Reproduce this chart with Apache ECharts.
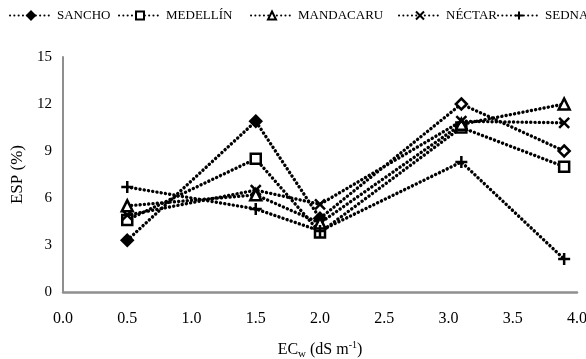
<!DOCTYPE html>
<html>
<head>
<meta charset="utf-8">
<script src="https://cdn.jsdelivr.net/npm/echarts@6/dist/echarts.min.js"></script>
<style>
  html, body { margin: 0; padding: 0; background: #fff; }
  #chart { width: 586px; height: 359px; }
</style>
</head>
<body>
<div id="chart"></div>
<script>
// EC_w (dS m-1) at which ESP was measured
const ecw = [0.5, 1.5, 2.0, 3.1, 3.9];

const sancho    = [3.3, 10.9, 4.7, 12.0, 9.0];
const medellin  = [4.6, 8.5, 3.8, 10.5, 8.0];
const mandacaru = [5.5, 6.2, 4.4, 10.7, 12.0];
const nectar    = [4.9, 6.5, 5.6, 10.9, 10.8];
const sedna     = [6.7, 5.3, 3.9, 8.3, 2.1];

const seriesNames = ['SANCHO', 'MEDELLÍN', 'MANDACARU', 'NÉCTAR', 'SEDNA'];

const fontSerif = '"Liberation Serif", "DejaVu Serif", serif';
const axisGray = '#8f8f8f';

const markers = {
    'SANCHO':    { symbol: 'diamond', size: 11, fill: '#000' },
    'MEDELLÍN':  { symbol: 'rect', size: 10, fill: '#fff' },
    'MANDACARU': { symbol: 'triangle', size: 11, fill: '#fff' },
    'NÉCTAR':    { symbol: 'path://M0,0L10,10M10,0L0,10', size: 10, fill: '#000' },
    'SEDNA':     { symbol: 'path://M5,0L5,10M0,5L10,5', size: 12, fill: '#000' }
};

// where each legend entry starts (the legend runs off the right edge)
const legendLeft = [9, 118, 250, 398, 497];

function pairs(values) {
    return values.map((v, i) => [ecw[i], v]);
}

function makeSeries(name, values) {
    const m = markers[name];
    let data = pairs(values);
    if (name === 'SANCHO') {
        // the last two diamonds are drawn hollow in the original
        data = data.map((p, i) => i >= 3 ? { value: p, itemStyle: { color: '#fff' } } : p);
    }
    return {
        name: name,
        type: 'line',
        data: data,
        symbol: m.symbol,
        symbolSize: m.size,
        symbolKeepAspect: true,
        showAllSymbol: true,
        z: 3,
        lineStyle: {
            color: '#000',
            width: 3.4,
            type: [0.1, 4.2],
            cap: 'round'
        },
        itemStyle: {
            color: m.fill,
            borderColor: '#000',
            borderWidth: 2.5
        },
        emphasis: { disabled: true }
    };
}

const chart = echarts.init(document.getElementById('chart'), null, { renderer: 'canvas' });

chart.setOption({
    backgroundColor: '#fff',
    animation: false,
    legend: seriesNames.map((name, i) => ({
        top: 9,
        left: legendLeft[i],
        padding: 0,
        itemWidth: 42,
        itemHeight: 10,
        textStyle: {
            color: '#000',
            fontFamily: fontSerif,
            fontSize: 13
        },
        data: [name]
    })),
    grid: {
        left: 63,
        right: 9,
        top: 57,
        bottom: 67,
        outerBoundsMode: 'none'
    },
    xAxis: {
        type: 'value',
        min: 0,
        max: 4,
        interval: 0.5,
        name: '{a|EC}{b|w}{a| (dS m}{c|-1}{a|)}',
        nameLocation: 'middle',
        nameGap: 47,
        nameTextStyle: {
            rich: {
                a: { fontFamily: fontSerif, fontSize: 16, color: '#000' },
                b: { fontFamily: fontSerif, fontSize: 11, color: '#000', padding: [10, 0, 0, 0] },
                c: { fontFamily: fontSerif, fontSize: 10, color: '#000', padding: [0, 0, 8, 0] }
            }
        },
        axisLine: { lineStyle: { color: axisGray, width: 2.5 } },
        axisTick: { show: false },
        splitLine: { show: false },
        axisLabel: {
            color: '#000',
            fontFamily: fontSerif,
            fontSize: 16,
            margin: 19,
            formatter: (v) => v.toFixed(1)
        }
    },
    yAxis: {
        type: 'value',
        min: 0,
        max: 15,
        interval: 3,
        name: 'ESP (%)',
        nameLocation: 'middle',
        nameGap: 31,
        nameTextStyle: {
            color: '#000',
            fontFamily: fontSerif,
            fontSize: 17
        },
        axisLine: { show: true, lineStyle: { color: axisGray, width: 2 } },
        axisTick: { show: false },
        splitLine: { show: false },
        axisLabel: {
            color: '#000',
            fontFamily: fontSerif,
            fontSize: 15,
            margin: 11
        }
    },
    series: [
        makeSeries('SANCHO', sancho),
        makeSeries('MEDELLÍN', medellin),
        makeSeries('MANDACARU', mandacaru),
        makeSeries('NÉCTAR', nectar),
        makeSeries('SEDNA', sedna)
    ]
});
</script>
</body>
</html>
